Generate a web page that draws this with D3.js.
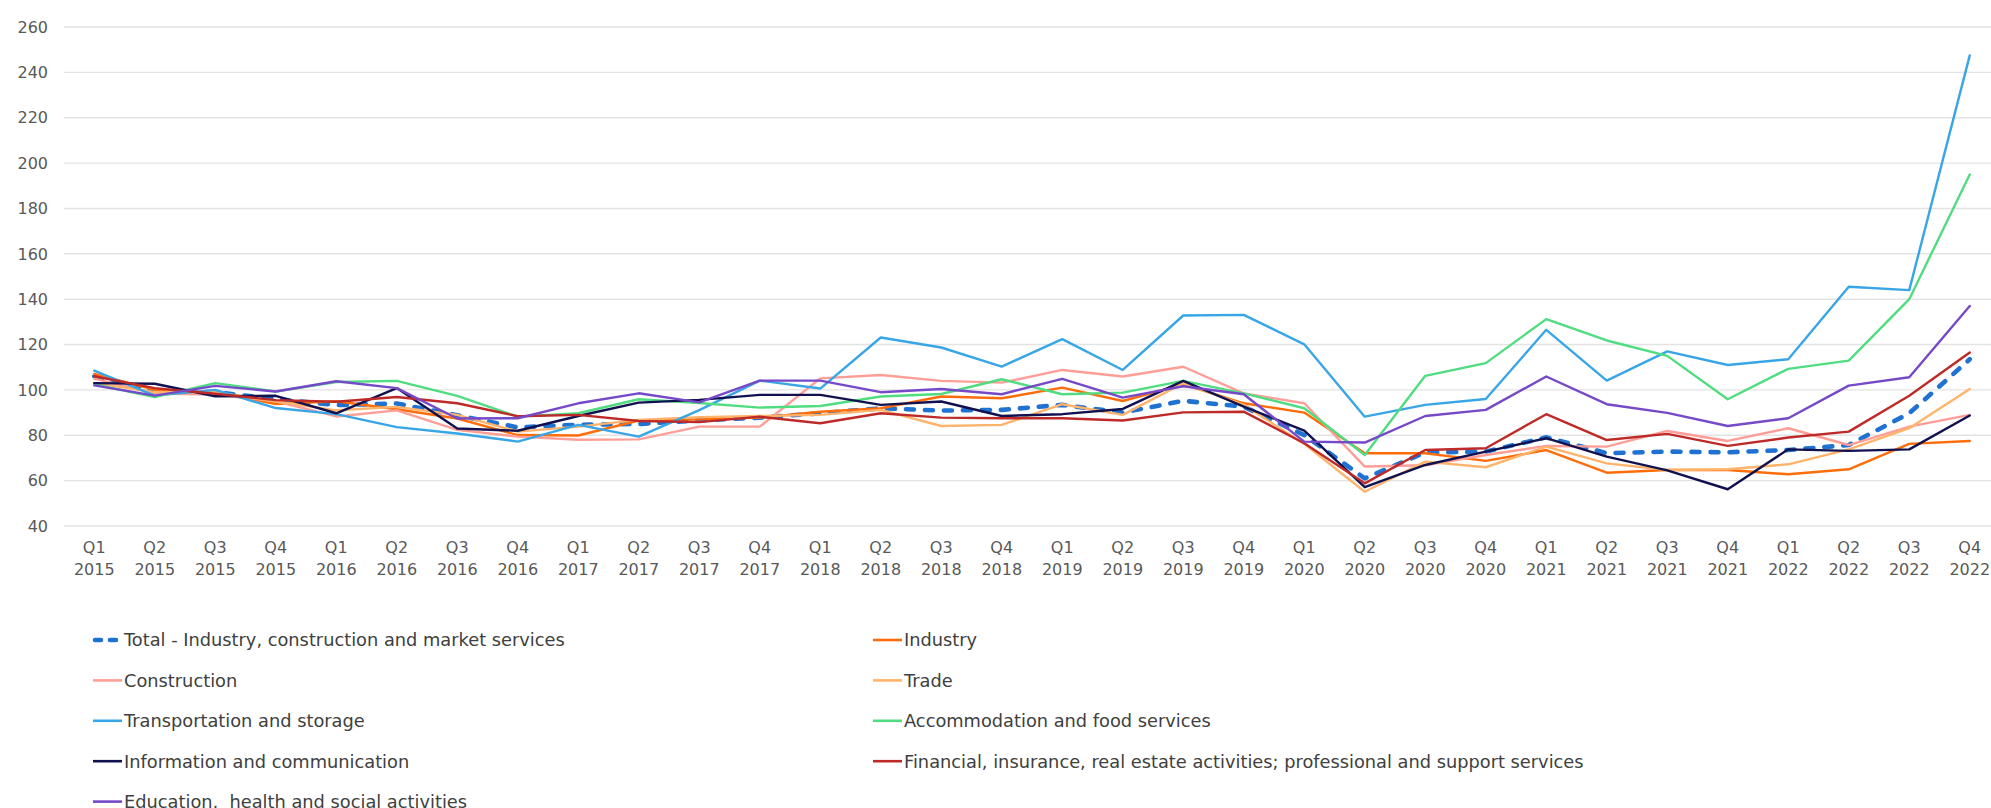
<!DOCTYPE html>
<html>
<head>
<meta charset="utf-8">
<script src="https://cdn.jsdelivr.net/npm/d3@7"></script>
<style>
  html, body { margin: 0; padding: 0; background: #ffffff; }
  svg { display: block; }
</style>
</head>
<body>
<svg id="chart" width="1991" height="808"></svg>
<script>
// ---- Data ----
const quarters = ["Q1","Q2","Q3","Q4","Q1","Q2","Q3","Q4","Q1","Q2","Q3","Q4","Q1","Q2","Q3","Q4",
                  "Q1","Q2","Q3","Q4","Q1","Q2","Q3","Q4","Q1","Q2","Q3","Q4","Q1","Q2","Q3","Q4"];
const years = ["2015","2015","2015","2015","2016","2016","2016","2016","2017","2017","2017","2017","2018","2018","2018","2018",
               "2019","2019","2019","2019","2020","2020","2020","2020","2021","2021","2021","2021","2022","2022","2022","2022"];
const yTicks = [40, 60, 80, 100, 120, 140, 160, 180, 200, 220, 240, 260];

const seriesNames = [
  "Total - Industry, construction and market services",
  "Industry",
  "Construction",
  "Trade",
  "Transportation and storage",
  "Accommodation and food services",
  "Information and communication",
  "Financial, insurance, real estate activities; professional and support services",
  "Education,  health and social activities"
];

const total =          [106, 99.7, 99, 96, 93.3, 94, 88.8, 83.5, 84.6, 85, 86.5, 87.8, 89.7, 91.9, 90.9, 91.2, 93.4, 90, 95.2, 92.6, 80.1, 61, 72.4, 72.8, 79.1, 72.1, 72.8, 72.5, 73.5, 75.7, 89.7, 113.5];
const industry =       [107, 100, 99, 93.8, 95, 91.5, 87.4, 80.1, 79.9, 86.5, 87, 87.8, 90.4, 91.9, 97.1, 96.3, 101, 95.1, 102.5, 94.1, 90, 72.1, 72.1, 68.7, 73.5, 63.5, 64.7, 64.7, 62.8, 65, 76.2, 77.5];
const construction =   [105, 98.4, 98, 95, 88.3, 91, 82.4, 79.4, 78, 78.2, 83.8, 83.8, 105.1, 106.6, 104, 103.2, 108.8, 105.9, 110.2, 98.5, 94.1, 66.2, 66.8, 71.3, 75.3, 75, 81.9, 77.5, 83.1, 75.7, 83.8, 89];
const trade =          [103, 99, 99, 95, 91, 92.5, 89, 81.6, 83.8, 86.8, 88, 88.5, 89, 91.2, 84.1, 84.6, 93.7, 89, 103, 93.4, 76.2, 55.1, 68.4, 65.9, 75, 67.6, 64.7, 65, 67.2, 73.8, 83.1, 100.4];
const transportation = [108.5, 97.5, 100, 92, 89.3, 83.6, 80.8, 77.2, 84.6, 79.4, 91.1, 104.1, 100.6, 123.1, 118.7, 110.3, 122.4, 108.8, 132.8, 133.1, 120.1, 88.2, 93.4, 96, 126.5, 104.1, 117, 111, 113.5, 145.5, 144, 247.5];
const accommodation =  [102.5, 96.8, 103, 99.3, 103.5, 104, 97.4, 88.2, 89.7, 95.9, 94.2, 92.2, 92.9, 97.1, 98.2, 104.7, 98.1, 98.8, 104, 98.5, 91.9, 71.3, 106.2, 111.8, 131.2, 121.8, 115, 95.9, 109.3, 112.9, 140, 195];
const information =    [103, 102.7, 97.2, 97.4, 89.7, 100.8, 83, 82, 88.5, 94.4, 95.6, 97.8, 97.8, 93.4, 94.9, 88.5, 89.3, 91.6, 104, 92.6, 82.1, 57.1, 66.9, 72.8, 78.7, 70.6, 64.5, 56.2, 73.8, 73.1, 73.8, 88.7];
const financial =      [106, 100.8, 98.3, 95.5, 94.8, 96.9, 94.1, 88.4, 89, 86.3, 85.8, 88.2, 85.3, 89.7, 87.8, 87.5, 87.5, 86.5, 90.1, 90.4, 76.5, 58.8, 73.5, 74.3, 89.3, 77.9, 80.6, 75.3, 79, 81.6, 97.4, 116.5];
const education =      [102, 97.5, 101.8, 99.3, 103.8, 100.8, 87.4, 87.5, 94.1, 98.5, 94.5, 104.1, 104.1, 99, 100.4, 98.1, 104.9, 96.6, 101.6, 98.1, 77.2, 76.8, 88.5, 91.2, 105.9, 93.7, 89.9, 84.1, 87.5, 101.9, 105.6, 137];

const seriesValues = [total, industry, construction, trade, transportation, accommodation, information, financial, education];
const seriesColors = ["#1f72cf", "#ff6d0a", "#ff9e97", "#ffb36b", "#38a6e6", "#50dc80", "#111150", "#bd2a27", "#7649c8"];

// ---- Layout ----
const svg = d3.select("#chart");
const plot = { left: 64, right: 2000, top: 27, bottom: 526 };

const cats = quarters.map((q, i) => i);
const x = d3.scalePoint().domain(cats).range([plot.left, plot.right]).padding(0.5);
const y = d3.scaleLinear().domain([40, 260]).range([plot.bottom, plot.top]);

// gridlines
svg.append("g").selectAll("line").data(yTicks).join("line")
  .attr("x1", plot.left).attr("x2", plot.right)
  .attr("y1", d => y(d)).attr("y2", d => y(d))
  .attr("stroke", "#e3e3e3").attr("stroke-width", 1.4);

// y axis labels
const axisFont = "'DejaVu Sans', Verdana, sans-serif";
svg.append("g").selectAll("text").data(yTicks).join("text")
  .attr("x", 48).attr("y", d => y(d)).attr("dy", "0.36em")
  .attr("text-anchor", "end")
  .attr("font-family", axisFont).attr("font-size", 16).attr("fill", "#595959")
  .text(d => d);

// x axis labels
const xg = svg.append("g");
xg.selectAll("text.q").data(cats).join("text").attr("class", "q")
  .attr("x", d => x(d)).attr("y", 553)
  .attr("text-anchor", "middle")
  .attr("font-family", axisFont).attr("font-size", 16).attr("fill", "#595959")
  .text(d => quarters[d]);
xg.selectAll("text.yr").data(cats).join("text").attr("class", "yr")
  .attr("x", d => x(d)).attr("y", 575)
  .attr("text-anchor", "middle")
  .attr("font-family", axisFont).attr("font-size", 16).attr("fill", "#595959")
  .text(d => years[d]);

// lines
const line = d3.line().x((d, i) => x(i)).y(d => y(d));
const lg = svg.append("g");
seriesValues.forEach((vals, si) => {
  const p = lg.append("path").datum(vals)
    .attr("d", line)
    .attr("fill", "none")
    .attr("stroke", seriesColors[si])
    .attr("stroke-linejoin", "round");
  if (si === 0) {
    p.attr("stroke-width", 4.6).attr("stroke-dasharray", "8,11").attr("stroke-linecap", "round");
  } else {
    p.attr("stroke-width", 2.4).attr("stroke-linecap", "round");
  }
});

// legend
const legendFont = "'DejaVu Sans', Verdana, sans-serif";
const colX = [93, 873];
const rowY0 = 640, rowStep = 40.4;
const leg = svg.append("g");
seriesNames.forEach((name, si) => {
  const col = si % 2, row = Math.floor(si / 2);
  const lx = colX[col], ly = rowY0 + row * rowStep;
  const g = leg.append("g");
  if (si === 0) {
    g.append("line").attr("x1", lx + 2).attr("x2", lx + 27).attr("y1", ly).attr("y2", ly)
      .attr("stroke", seriesColors[si]).attr("stroke-width", 4.6)
      .attr("stroke-dasharray", "6,9").attr("stroke-linecap", "round");
  } else {
    g.append("line").attr("x1", lx).attr("x2", lx + 29).attr("y1", ly).attr("y2", ly)
      .attr("stroke", seriesColors[si]).attr("stroke-width", 2.6);
  }
  g.append("text").attr("x", lx + 31).attr("y", ly).attr("dy", "0.36em")
    .attr("font-family", legendFont).attr("font-size", 17.8).attr("fill", "#404040")
    .style("white-space", "pre")
    .text(name);
});
</script>
</body>
</html>
